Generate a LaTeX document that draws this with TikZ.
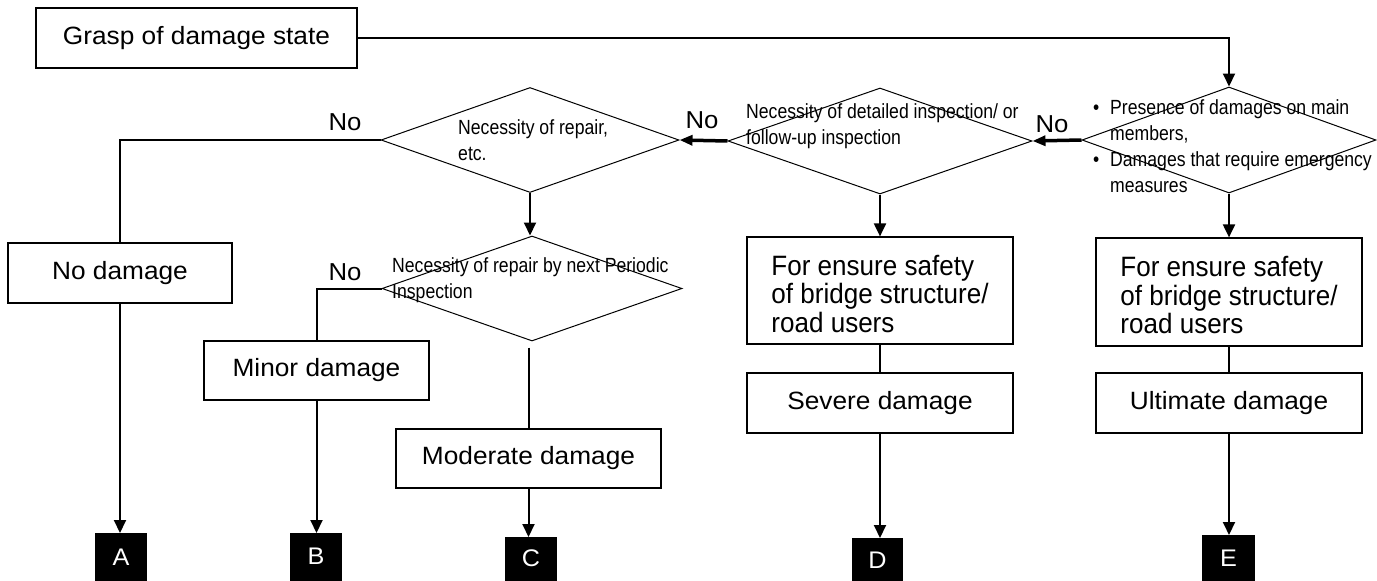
\documentclass[tikz,border=0pt]{standalone}
\usepackage{fontspec}
\setmainfont{Liberation Sans}[FakeStretch=1.05]
\newfontfamily\tallf{Liberation Sans}[FakeStretch=0.93]
\newfontfamily\narrowf{Liberation Sans}[FakeStretch=0.86]
\usetikzlibrary{shapes.geometric,arrows.meta}
\begin{document}
\begin{tikzpicture}[x=1pt,y=-1pt,
  box/.style={draw, line width=1.2pt, inner sep=0pt, align=left, font=\fontsize{25}{30}\selectfont},
  tallbox/.style={box, font=\tallf\fontsize{28}{28.5}\selectfont},
  dia/.style={draw, diamond, line width=1pt, inner sep=0pt},
  dtext/.style={inner sep=0pt, align=left, font=\narrowf\fontsize{20.5}{26}\selectfont},
  tag/.style={fill=black, text=white, inner sep=0pt, anchor=north,
              text depth=0pt, font=\fontsize{24}{24}\selectfont},
  lbl/.style={inner sep=0pt, font=\fontsize{24.5}{25}\selectfont},
  link/.style={line width=2pt},
  arr/.style={line width=2pt, -{Triangle[length=13pt,width=12pt]}},
  noarr/.style={line width=3.5pt, -{Triangle[length=13pt,width=10pt]}}]
\useasboundingbox (0,0) rectangle (1377,581);

% start box
\node[box, minimum width=321pt, minimum height=60pt] (grasp) at (196.5,38) {Grasp of damage state};

% decisions
\node[dia, minimum width=294pt, minimum height=106pt] (d1) at (1229,140) {};
\node[dia, minimum width=304pt, minimum height=106pt] (d2) at (880,141) {};
\node[dia, minimum width=298pt, minimum height=105pt] (d3) at (530,140) {};
\node[dia, minimum width=300pt, minimum height=105pt] (d4) at (532,288.5) {};

\node[dtext, anchor=west] (t1) at (1093,146)
  {\makebox[17pt][l]{•}Presence of damages on main\\
   \hspace*{17pt}members,\\
   \makebox[17pt][l]{•}Damages that require emergency\\
   \hspace*{17pt}measures};
\node[dtext, anchor=west] (t2) at (746,126) {Necessity of detailed inspection/ or\\follow-up inspection};
\node[dtext, anchor=west] (t3) at (458,140) {Necessity of repair,\\etc.};
\node[dtext, anchor=west] (t4) at (392,280) {Necessity of repair by next Periodic\\Inspection};

% outcome boxes
\node[box, minimum width=224pt, minimum height=60pt] (nod) at (120,273) {No damage};
\node[box, minimum width=225pt, minimum height=59pt] (minor) at (316.5,370.5) {Minor damage};
\node[box, minimum width=265pt, minimum height=59pt] (mod) at (528.5,458.5) {Moderate damage};
\node[tallbox, minimum width=266pt, minimum height=107pt] (safe1) at (880,290.5)
  {\rule{0pt}{26.5pt}For ensure safety\\of bridge structure/\\road users};
\node[box, minimum width=266pt, minimum height=60pt] (sev) at (880,403) {Severe damage};
\node[tallbox, minimum width=266pt, minimum height=108pt] (safe2) at (1229,292)
  {\rule{0pt}{26.5pt}For ensure safety\\of bridge structure/\\road users};
\node[box, minimum width=266pt, minimum height=60pt] (ult) at (1229,403) {Ultimate damage};

% category tags
\node[tag, minimum width=52pt, minimum height=52pt, text height=12pt] (A) at (121,533) {A};
\node[tag, minimum width=52pt, minimum height=52pt, text height=10pt] (B) at (316,533) {B};
\node[tag, minimum width=52pt, minimum height=48pt, text height=10.6pt] (C) at (531,537) {C};
\node[tag, minimum width=51pt, minimum height=47pt, text height=13.6pt] (D) at (877.5,538) {D};
\node[tag, minimum width=53pt, minimum height=50pt, text height=12.6pt] (E) at (1228.5,535) {E};

% "No" labels
\node[lbl] (no1) at (1052,124) {No};
\node[lbl] (no2) at (702,120) {No};
\node[lbl] (no3) at (345,122) {No};
\node[lbl] (no4) at (345,272) {No};

% connectors
\draw[arr] (grasp.east) -| (d1.north);
\draw[noarr] (d1.west) -- (d2.east);
\draw[noarr] (d2.west) -- (d3.east);
\draw[link] (d3.west) -| (nod.north);
\draw[arr] (nod.south) -- (nod.south |- A.north);
\draw[arr] (d3.south) -- (d3.south |- d4.north);
\draw[link] (d4.west) -| (minor.north);
\draw[arr] (minor.south) -- (minor.south |- B.north);
\draw[link] ([yshift=-6pt]d4.south -| mod.north) -- (mod.north);
\draw[arr] (mod.south) -- (mod.south |- C.north);
\draw[arr] (d2.south) -- (d2.south |- safe1.north);
\draw[link] (safe1.south) -- (sev.north);
\draw[arr] (sev.south) -- (sev.south |- D.north);
\draw[arr] (d1.south) -- (d1.south |- safe2.north);
\draw[link] (safe2.south) -- (ult.north);
\draw[arr] (ult.south) -- (ult.south |- E.north);
\end{tikzpicture}
\end{document}
